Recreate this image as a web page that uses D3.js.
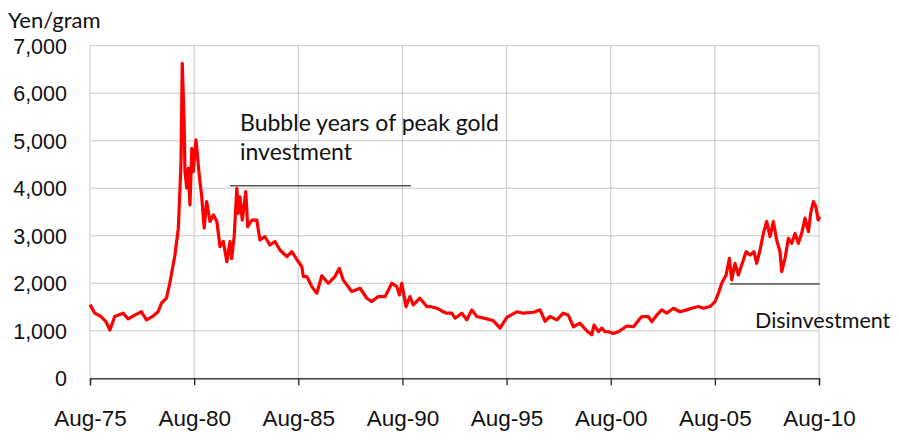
<!DOCTYPE html>
<html>
<head>
<meta charset="utf-8">
<script src="https://cdn.jsdelivr.net/npm/d3@7"></script>
<style>
  body { margin: 0; background: #fff; }
  svg { display: block; font-family: Lato, "Open Sans", sans-serif; }
  .grid line { stroke: #c8c8c8; stroke-width: 1; }
  .lbl { font-size: 21px; fill: #111; }
</style>
</head>
<body>
<svg width="899" height="440"></svg>
<script>
// gold price in yen per gram (decimal years)
const years = [
  1975.58, 1975.81, 1976.11, 1976.35, 1976.54, 1976.77, 1977.17, 1977.41, 1977.73, 1978.05,
  1978.29, 1978.61, 1978.85, 1979.01, 1979.25, 1979.41, 1979.66, 1979.82, 1979.90, 1979.95,
  1980.01, 1980.10, 1980.14, 1980.23, 1980.30, 1980.38, 1980.47, 1980.54, 1980.67, 1980.78,
  1980.86, 1980.94, 1981.06, 1981.18, 1981.34, 1981.50, 1981.67, 1981.82, 1981.98, 1982.15,
  1982.30, 1982.38, 1982.50, 1982.63, 1982.70, 1982.78, 1982.89, 1983.06, 1983.15, 1983.35,
  1983.59, 1983.74, 1983.98, 1984.22, 1984.46, 1984.70, 1985.03, 1985.27, 1985.51, 1985.75,
  1985.82, 1985.99, 1986.15, 1986.23, 1986.47, 1986.71, 1987.02, 1987.34, 1987.55, 1987.74,
  1988.15, 1988.55, 1988.87, 1989.11, 1989.42, 1989.75, 1990.07, 1990.31, 1990.43, 1990.55,
  1990.75, 1990.94, 1991.10, 1991.42, 1991.75, 1991.91, 1992.23, 1992.39, 1992.54, 1992.71,
  1992.95, 1993.11, 1993.43, 1993.67, 1993.91, 1994.15, 1994.63, 1994.95, 1995.27, 1995.59,
  1996.07, 1996.39, 1996.87, 1997.19, 1997.43, 1997.67, 1997.99, 1998.30, 1998.54, 1998.79,
  1999.10, 1999.43, 1999.67, 1999.78, 1999.99, 2000.15, 2000.31, 2000.47, 2000.71, 2000.95,
  2001.35, 2001.67, 2002.07, 2002.39, 2002.55, 2002.79, 2003.03, 2003.27, 2003.59, 2003.91,
  2004.23, 2004.47, 2004.79, 2005.02, 2005.35, 2005.59, 2005.75, 2005.91, 2006.12, 2006.28,
  2006.39, 2006.55, 2006.71, 2006.87, 2007.08, 2007.27, 2007.46, 2007.59, 2007.75, 2007.91,
  2008.07, 2008.23, 2008.39, 2008.55, 2008.71, 2008.79, 2008.95, 2009.11, 2009.27, 2009.43,
  2009.59, 2009.75, 2009.91, 2010.07, 2010.18, 2010.31, 2010.43, 2010.54, 2010.62
];
const yen = [
  1550, 1370, 1300, 1190, 1015, 1300, 1370, 1250, 1330, 1400,
  1230, 1310, 1400, 1580, 1685, 2000, 2595, 3160, 4000, 4560,
  6630, 5400, 4350, 4000, 4420, 3650, 4840, 4350, 5020, 4490,
  4140, 3860, 3160, 3720, 3300, 3440, 3300, 2770, 2880, 2455,
  2880, 2520, 2980, 4000, 3470, 3820, 3330, 3930, 3190, 3330,
  3330, 2910, 2980, 2805, 2880, 2700, 2560, 2665, 2500, 2350,
  2140, 2140, 2000, 1930, 1790, 2160, 2000, 2140, 2315, 2070,
  1825, 1895, 1685, 1615, 1720, 1720, 2000, 1930, 1755, 2000,
  1510, 1720, 1545, 1685, 1510, 1510, 1475, 1440, 1400, 1370,
  1370, 1265, 1370, 1230, 1440, 1300, 1250, 1210, 1055, 1280,
  1400, 1370, 1390, 1440, 1200, 1300, 1230, 1370, 1330, 1085,
  1160, 1000, 915, 1120, 980, 1055, 980, 980, 945, 980,
  1100, 1085, 1300, 1300, 1190, 1330, 1440, 1370, 1475, 1400,
  1440, 1475, 1510, 1475, 1510, 1615, 1790, 2000, 2175, 2525,
  2070, 2420, 2175, 2385, 2665, 2595, 2665, 2420, 2700, 3050,
  3300, 2980, 3300, 2910, 2665, 2245, 2525, 2945, 2840, 3050,
  2840, 3050, 3370, 3085, 3475, 3720, 3610, 3330, 3400
];
const tickYears = [1975, 1980, 1985, 1990, 1995, 2000, 2005, 2010];
const yTicks = [0, 1000, 2000, 3000, 4000, 5000, 6000, 7000];

function toDate(y) {
  const yr = Math.floor(y);
  return new Date(yr, 0, 1 + Math.round((y - yr) * 365.25));
}

const data = years.map((y, i) => ({ date: toDate(y), value: yen[i] }));

const svg = d3.select("svg");
const plotLeft = 90, plotRight = 819, plotTop = 45.7, plotBottom = 378.3;

const x = d3.scaleTime()
  .domain([new Date(1975, 7, 1), new Date(2010, 7, 1)])
  .range([plotLeft, plotRight]);
const y = d3.scaleLinear().domain([0, 7000]).range([plotBottom, plotTop]);

// grid
const grid = svg.append("g").attr("class", "grid");
grid.selectAll(".h").data(yTicks).enter().append("line")
  .attr("x1", plotLeft).attr("x2", plotRight)
  .attr("y1", d => y(d)).attr("y2", d => y(d));
grid.selectAll(".v").data(tickYears).enter().append("line")
  .attr("x1", d => x(new Date(d, 7, 1))).attr("x2", d => x(new Date(d, 7, 1)))
  .attr("y1", plotTop).attr("y2", plotBottom);

// x axis
const xAxis = d3.axisBottom(x)
  .tickValues(tickYears.map(d => new Date(d, 7, 1)))
  .tickFormat(d3.timeFormat("%b-%y"))
  .tickSize(7)
  .tickPadding(0);
const gx = svg.append("g").attr("transform", `translate(0,${plotBottom})`).call(xAxis);
gx.select(".domain").attr("stroke", "#222").attr("stroke-width", 1.3);
gx.selectAll(".tick line").attr("stroke", "#222").attr("stroke-width", 1.3);
gx.selectAll(".tick text").attr("class", "lbl").style("font-size", "22.5px").attr("y", 48).attr("dy", null);

// y axis labels
const yAxis = d3.axisLeft(y).tickValues(yTicks).tickFormat(d3.format(",")).tickSize(0).tickPadding(23);
const gy = svg.append("g").attr("transform", `translate(${plotLeft},0)`).call(yAxis);
gy.select(".domain").remove();
gy.selectAll(".tick text").attr("class", "lbl").style("font-size", "21.5px").attr("dy", "0.35em");

svg.append("text").attr("class", "lbl").style("font-size", "22px").attr("x", 8).attr("y", 28).text("Yen/gram");

// price line
const line = d3.line().x(d => x(d.date)).y(d => y(d.value));
svg.append("path").datum(data)
  .attr("fill", "none")
  .attr("stroke", "#ff0000")
  .attr("stroke-width", 3.2)
  .attr("stroke-linejoin", "round")
  .attr("d", line);

// annotations
svg.append("line")
  .attr("x1", x(toDate(1982.30))).attr("x2", x(toDate(1990.99)))
  .attr("y1", y(4050)).attr("y2", y(4050))
  .attr("stroke", "#555").attr("stroke-width", 1.5);
svg.append("text").attr("class", "lbl").style("font-size", "23px").attr("x", 240).attr("y", 131).text("Bubble years of peak gold");
svg.append("text").attr("class", "lbl").style("font-size", "23px").attr("x", 240).attr("y", 160).text("investment");

svg.append("line")
  .attr("x1", x(toDate(2006.3))).attr("x2", x(toDate(2010.62)))
  .attr("y1", y(1985)).attr("y2", y(1985))
  .attr("stroke", "#111").attr("stroke-width", 1.2);
svg.append("text").attr("class", "lbl").style("font-size", "21.5px").attr("x", 755).attr("y", 328).text("Disinvestment");
</script>
</body>
</html>
